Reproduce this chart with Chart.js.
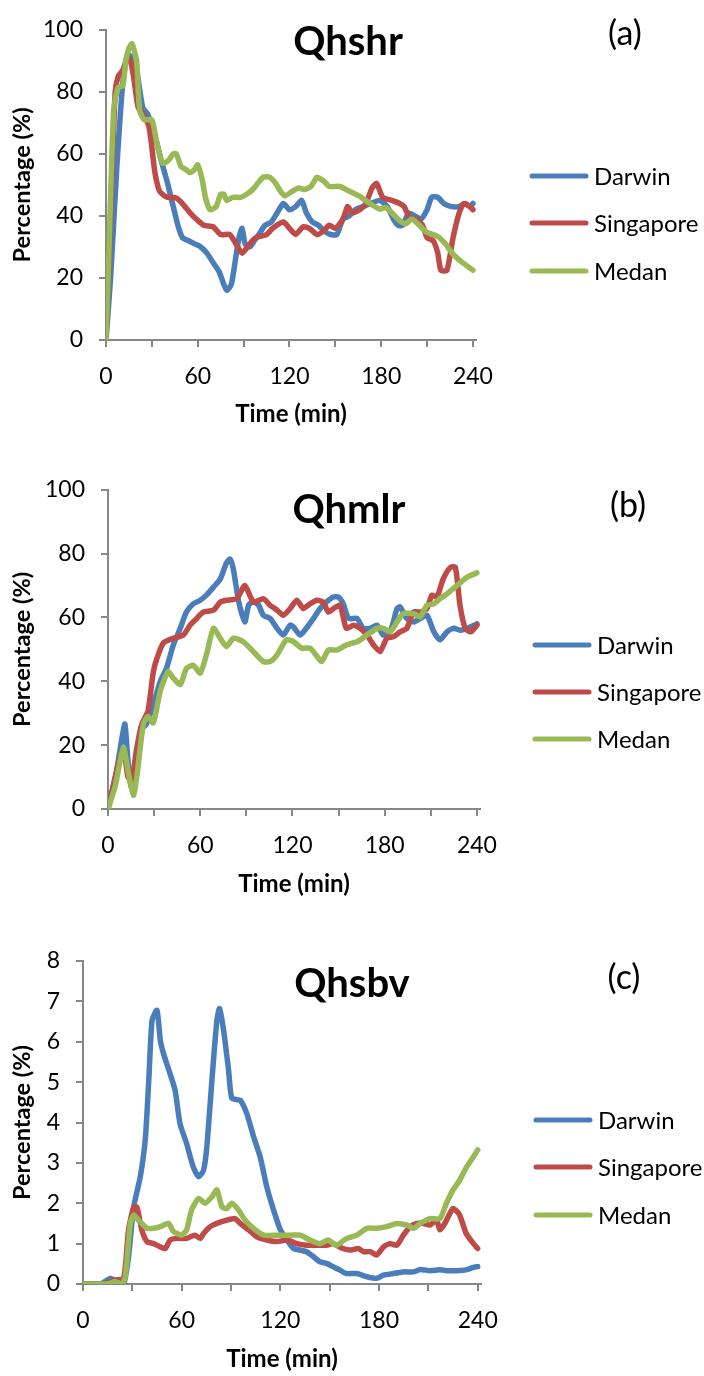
<!DOCTYPE html>
<html>
<head>
<meta charset="utf-8">
<script src="https://cdn.jsdelivr.net/npm/chart.js@4.4.1/dist/chart.umd.min.js"></script>
<style>
  html, body { margin: 0; padding: 0; background: #fff; }
  body { width: 704px; height: 1376px; position: relative; overflow: hidden; }
  canvas { position: absolute; left: 0; }
</style>
</head>
<body>
<canvas id="chartA" width="704" height="440" style="top:0px"></canvas>
<canvas id="chartB" width="704" height="440" style="top:460px"></canvas>
<canvas id="chartC" width="704" height="446" style="top:930px"></canvas>
<script>
// ---- data: [time (min), percentage] ----
const seriesNames = ['Darwin', 'Singapore', 'Medan'];
const seriesColors = ['#4A7EBB', '#BE4B48', '#98B954'];
const tickMarks = [0, 30, 60, 90, 120, 150, 180, 210, 240];
const timeTicks = [0, 60, 120, 180, 240];

// (a) Qhshr
const darwinA = [[0,0],[3,20],[7,55],[11,83],[14,92],[17,91],[20,87],[24,75],[27,73],[30,69],[33,64],[36,58],[40,51],[44,43],[47,37],[50,33],[54,32],[58,31],[62,30],[66,28],[70,25],[74,22],[77,18],[79,16],[82,18],[85,27],[87,33],[89,36],[91,31],[94,30],[97,32],[100,34],[104,37],[108,38],[112,41],[116,44],[120,42],[124,43],[128,45],[131,41],[135,38],[139,37],[143,35],[147,34],[151,34],[155,39],[159,40],[163,42],[168,43],[173,44],[179,45],[184,43],[188,39],[191,37],[194,37],[198,41],[202,40],[206,39],[210,42],[213,46],[217,46],[221,44],[226,43],[231,43],[235,44],[238,43],[240,44]];
const singaporeA = [[0,0],[3,40],[6,80],[8,85],[11,87],[14,91],[16,90],[18,85],[21,75],[24,73],[28,69],[30,62],[32,54],[35,48],[40,46],[46,45.8],[50,44],[55,41],[59,39],[64,37],[70,36.5],[75,34],[81,34],[85,31],[89,28],[94,31],[98,33],[105,34],[109,36],[116,38],[120,36],[124,34],[129,36.5],[133,36],[138,34],[142,35],[146,37],[150,36],[155,39],[158,43],[161,41],[166,42],[170,44],[174,49],[177,50.5],[181,46],[187,45],[192,44],[195,43],[199,39],[203,39],[207,37],[210,33],[214,32],[217,28],[219,22.5],[223,22.5],[227,33],[231,41],[234,44],[238,43],[240,42]];
const medanA = [[0,0],[2,30],[5,74],[8,81.5],[11,82],[13,90],[15,94],[17,95.5],[20,90],[22,74],[25,71],[30,71],[33,64],[37,57],[41,58],[44,60],[46,60],[49,56],[52,55],[55,54],[58,55],[60,56.5],[63,51.5],[65,46],[68,42],[72,43],[75,47],[77,47],[79,45],[83,46],[88,46],[92,47],[96,48.5],[100,51],[103,52.5],[107,52.5],[111,50.5],[114,48],[117,46.5],[122,48],[126,49],[130,48.5],[134,49.5],[138,52.5],[140,52],[143,51],[146,49.5],[153,49.5],[159,48],[166,46.3],[172,44.2],[179,42.2],[183,42.7],[187,41],[192,38.5],[196,37.5],[200,39],[205,37],[209,35],[214,34],[218,33],[222,31],[227,27.7],[233,25],[240,22.5]];

// (b) Qhmlr
const darwinB = [[0,0],[5.6,12],[9,22],[11,26.6],[13,15],[15,7],[17.6,9],[21,24.5],[25,26.6],[29.5,32.8],[34,40],[38,44],[42.5,51.4],[47,56.6],[51,61.7],[55.5,64.3],[60,65.4],[64,67],[68.6,69.5],[73,72],[77,77],[79.4,78.3],[81.6,75],[85,65],[89,58.6],[91.4,63.8],[94.6,65],[98,63.8],[101,60.7],[105.5,59.7],[110,56.6],[114,54.5],[118.5,57.6],[120.7,57],[125,54.5],[129,56.6],[133.7,59.7],[138,62.8],[142,64.8],[146.7,66.4],[150,66.4],[153,64.3],[156.5,59.7],[162,59.7],[166,56.6],[170.6,56.6],[175,57.6],[179,54.5],[183.6,55.5],[188,62.8],[190,63.3],[194.4,59.7],[198.8,58.6],[203,59.7],[207.5,60.7],[212,55.5],[216,53],[220.5,55.5],[225,56.6],[229,56],[233.5,56.6],[238,57.6],[240,58]];
const singaporeB = [[0,0],[6.7,14],[10,19],[13,10],[15.4,9],[18.7,19],[22,26.6],[26,30.7],[29.5,43],[31.7,47],[36,52],[42.5,53.5],[49,54.5],[53.4,57.6],[57.7,59.7],[62,61.7],[68.6,62.3],[73,64.8],[77,65.4],[83.8,65.9],[89,70],[94.6,64.8],[101,65.9],[105.5,63.8],[110,62.3],[114,60.7],[118.5,62.8],[122.8,65.4],[127,62.8],[131.5,64.3],[136,65.4],[140,64.8],[143.4,61.7],[146.7,62.8],[151,63.8],[155,56.6],[159.7,57.6],[164,56.6],[168.4,54.5],[172.7,51.4],[177,49.3],[181.4,53.5],[185.8,54],[190,55.5],[194.4,56.6],[198.8,61.7],[203,61.7],[207.5,62.8],[210.7,67],[214,66.4],[218,72],[222.7,75.7],[226,75.7],[229,63.8],[232.4,56.6],[236,55.5],[240,57.6]];
const medanB = [[0,0],[4.6,7],[10,19.3],[13,12],[16.5,4.3],[18.7,10],[23,26.6],[26,29],[29.5,27],[34,37],[39,43],[42.5,41],[47,39],[51,44],[55.5,45],[60,42.6],[64,48.3],[68.6,56.6],[73,53.5],[77,50.9],[81.6,53.5],[88,52.4],[94.6,49.3],[101,46.2],[105.5,46.2],[110,48.3],[116,53],[120.7,52.4],[126,50.4],[131.5,50.4],[136,47.8],[139,46.2],[143.4,49.8],[149,49.8],[155,51.4],[162,52.4],[168.4,54.5],[175,56.6],[179,56.6],[183.6,55.5],[188,58.6],[192,61.2],[198.8,61.2],[203,60.2],[207.5,63.8],[212,64.3],[216,65.9],[220.5,67.4],[227,70],[233.5,72.6],[240,74]];

// (c) Qhsbv
const darwinC = [[0,0],[10.5,0],[16.6,0.14],[20.7,0.06],[24.7,0],[27.7,0.68],[30.8,1.9],[34.8,2.65],[37.9,3.6],[40,5.05],[42,6.53],[45,6.78],[47,6.04],[49,5.7],[53,5.2],[56,4.8],[59,3.97],[63,3.48],[67,2.9],[70.3,2.66],[73.3,2.82],[75.3,3.4],[78.4,5.05],[81.4,6.53],[83,6.82],[85.5,6.28],[88.5,5.3],[90.5,4.6],[95.6,4.55],[99.6,4.22],[103.7,3.65],[107.7,3.15],[111.8,2.4],[115.9,1.83],[120,1.34],[124,1.09],[128,0.88],[132,0.84],[136,0.8],[140,0.68],[144,0.55],[148,0.51],[152,0.43],[156,0.35],[160,0.26],[166.5,0.26],[172.6,0.18],[178.6,0.14],[182.7,0.22],[188.8,0.26],[194.8,0.3],[201,0.3],[205,0.36],[211,0.33],[217,0.35],[221,0.33],[227,0.33],[233,0.35],[237.4,0.41],[240,0.43]];
const singaporeC = [[0,0],[12,0],[16.6,0.06],[19.6,0.1],[24.7,0.14],[27.7,1.34],[30.8,1.9],[32.8,1.9],[35.8,1.34],[38.9,1.05],[43,1.0],[47,0.92],[50,0.88],[53,1.09],[57,1.13],[63,1.13],[68,1.21],[71.3,1.13],[73.3,1.25],[77.4,1.42],[81.4,1.5],[87.5,1.58],[92.6,1.62],[95.6,1.5],[100.7,1.34],[105.7,1.17],[111.8,1.09],[118,1.05],[124,1.09],[130,1.0],[136,0.96],[142,0.96],[148,0.96],[152,1.0],[158,0.88],[162.4,0.84],[167.5,0.88],[170.5,0.8],[174.6,0.8],[178.6,0.72],[182.7,0.92],[186.7,1.0],[190.8,0.96],[194.8,1.21],[199,1.42],[203,1.5],[207,1.5],[211,1.46],[215,1.58],[217,1.34],[220,1.5],[225,1.87],[229,1.71],[233,1.25],[237.4,1.0],[240,0.88]];
const medanC = [[0,0],[15,0],[19.6,0.06],[23.7,0],[25.7,0.18],[28.8,1.5],[30.8,1.71],[33.8,1.58],[38.9,1.38],[43,1.38],[47,1.42],[52,1.5],[55,1.3],[60,1.21],[63,1.34],[66,1.83],[70.3,2.12],[74.3,2.0],[78.4,2.16],[81.4,2.33],[84.5,1.91],[87.5,1.87],[90.5,2.0],[94.6,1.83],[98.6,1.58],[103.7,1.38],[110,1.21],[118,1.21],[126,1.21],[132,1.21],[138,1.09],[144,1.0],[149,1.09],[154,0.96],[160.4,1.13],[166.5,1.21],[172.6,1.38],[178.6,1.38],[184.7,1.42],[190.8,1.5],[196.9,1.46],[201,1.38],[205,1.5],[211,1.62],[217,1.62],[221,2.0],[225,2.33],[229,2.57],[233.3,2.9],[237.4,3.15],[240,3.32]];

Chart.defaults.font.family = 'Lato, "Open Sans", sans-serif';
Chart.defaults.color = '#000';

const AXIS_GRAY = '#878787';

// panel name + letter, and the legend at the right
const panelText = {
  id: 'panelText',
  afterDraw(chart, args, o) {
    const ctx = chart.ctx;
    ctx.save();
    ctx.fillStyle = '#000';
    ctx.textAlign = 'center';
    ctx.textBaseline = 'alphabetic';
    ctx.font = 'bold 40px Lato';
    ctx.fillText(o.name, o.nameX, o.nameY);
    ctx.textBaseline = 'middle';
    ctx.font = '34px Lato';
    ctx.fillText(o.letter, o.letterX, o.letterY);

    ctx.font = '24px Lato';
    ctx.textAlign = 'left';
    chart.data.datasets.forEach((ds, i) => {
      const y = o.legendY[i];
      ctx.strokeStyle = ds.borderColor;
      ctx.lineWidth = 5;
      ctx.lineCap = 'round';
      ctx.beginPath();
      ctx.moveTo(o.legendX, y);
      ctx.lineTo(o.legendX + 54, y);
      ctx.stroke();
      ctx.fillText(ds.label, o.legendX + 62, y + 1);
    });
    ctx.restore();
  }
};

function makePanel(id, sets, yMax, yStep, box, text) {
  new Chart(document.getElementById(id), {
    type: 'line',
    data: {
      datasets: sets.map((pts, i) => ({
        label: seriesNames[i],
        data: pts.map(p => ({ x: p[0], y: p[1] })),
        borderColor: seriesColors[i],
        backgroundColor: seriesColors[i],
        borderWidth: 5.5,
        pointRadius: 0,
        tension: 0.2,
        borderJoinStyle: 'round',
        borderCapStyle: 'round',
        order: 3 - i
      }))
    },
    options: {
      responsive: false,
      animation: false,
      events: [],
      layout: { padding: { left: 0, top: box.top, right: box.right, bottom: 0 } },
      plugins: { legend: { display: false }, tooltip: { enabled: false }, panelText: text },
      scales: {
        x: {
          type: 'linear', min: 0, max: 242,
          afterBuildTicks: s => { s.ticks = tickMarks.map(v => ({ value: v })); },
          afterFit: s => { s.height = box.xh; },
          ticks: {
            autoSkip: false, maxRotation: 0, padding: 16,
            font: { size: 23 },
            callback: v => timeTicks.includes(v) ? String(v) : ''
          },
          grid: { drawOnChartArea: false, drawTicks: true, tickLength: 7, color: AXIS_GRAY, lineWidth: 2 },
          border: { color: AXIS_GRAY, width: 2 },
          title: { display: true, text: 'Time (min)', font: { size: 24, weight: 'bold' }, padding: { top: 0, bottom: box.xtPad } }
        },
        y: {
          min: 0, max: yMax,
          afterFit: s => { s.width = box.left; },
          ticks: { stepSize: yStep, padding: 16, font: { size: 23 } },
          grid: { drawOnChartArea: false, drawTicks: true, tickLength: 7, color: AXIS_GRAY, lineWidth: 2 },
          border: { color: AXIS_GRAY, width: 2 },
          title: { display: true, text: 'Percentage (%)', font: { size: 23.5, weight: 'bold' }, padding: { top: 8, bottom: 0 } }
        }
      }
    },
    plugins: [panelText]
  });
}

makePanel('chartA', [darwinA, singaporeA, medanA], 100, 20,
  { left: 106, top: 17, right: 228, xh: 100, xtPad: 11 },
  { name: 'Qhshr', nameX: 348, nameY: 55, letter: '(a)', letterX: 625, letterY: 34,
    legendX: 532, legendY: [176, 223, 271] });

makePanel('chartB', [darwinB, singaporeB, medanB], 100, 20,
  { left: 108, top: 27, right: 224, xh: 91, xtPad: 1 },
  { name: 'Qhmlr', nameX: 349, nameY: 63, letter: '(b)', letterX: 628, letterY: 46,
    legendX: 535, legendY: [185, 232, 279] });

makePanel('chartC', [darwinC, singaporeC, medanC], 8, 1,
  { left: 83, top: 31, right: 223, xh: 92, xtPad: 2 },
  { name: 'Qhsbv', nameX: 352, nameY: 67, letter: '(c)', letterX: 624, letterY: 48,
    legendX: 536, legendY: [190, 237, 285] });
</script>
</body>
</html>
